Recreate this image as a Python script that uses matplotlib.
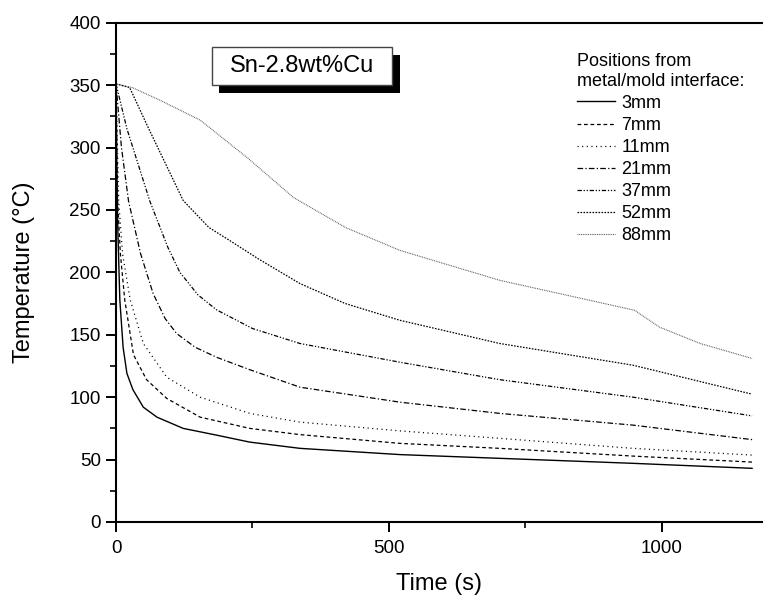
import matplotlib
matplotlib.use("Agg")
import matplotlib.pyplot as plt
import matplotlib.patches as mpatches

plt.rcParams["font.family"] = ["Liberation Sans", "DejaVu Sans"]

# cooling curves (time s, temperature C)
t_3mm = [0, 1, 3, 7, 13, 20, 31, 50, 75, 123, 184, 245, 337, 520, 703, 947, 1165]
T_3mm = [351, 300, 240, 178, 140, 119, 106, 92, 84, 75, 69.6, 64, 59, 54, 51, 47, 43]

t_7mm = [0, 3, 8, 16, 32, 56, 93, 154, 245, 337, 520, 703, 947, 1165]
T_7mm = [351, 257, 215, 178, 134, 114, 99, 84, 75, 70, 63, 59, 52.8, 48]

t_11mm = [0, 5, 12, 26, 50, 93, 154, 245, 337, 520, 703, 947, 1165]
T_11mm = [351, 257, 215, 178, 143, 116, 100, 87, 80, 73, 67, 59, 53.6]

t_21mm = [0, 10, 23, 45, 68, 90, 111, 145, 184, 245, 337, 520, 703, 947, 1165]
T_21mm = [351, 300, 257, 215, 183, 163, 151, 140, 132, 122, 108, 96, 87, 77.6, 66]

t_37mm = [0, 20, 62, 95, 117, 150, 184, 250, 337, 520, 703, 947, 1165]
T_37mm = [351, 315, 257, 220, 200, 182, 170, 155, 143, 128, 114, 100, 85]

t_52mm = [0, 25, 60, 123, 170, 210, 260, 337, 420, 520, 703, 947, 1165]
T_52mm = [351, 348, 315, 257.6, 236, 225, 211, 191, 175, 161.6, 143, 125.6, 102.4]

t_88mm = [0, 30, 80, 154, 240, 325, 420, 520, 703, 950, 996, 1070, 1165]
T_88mm = [351, 348, 338, 322, 292, 260, 236, 217.6, 193.6, 169.6, 156, 143, 131]

labels = ["3mm", "7mm", "11mm", "21mm", "37mm", "52mm", "88mm"]

series = [(t_3mm, T_3mm), (t_7mm, T_7mm), (t_11mm, T_11mm), (t_21mm, T_21mm),
          (t_37mm, T_37mm), (t_52mm, T_52mm), (t_88mm, T_88mm)]
styles = [
    dict(ls="-", color="black", lw=1.0),
    dict(ls=(0, (3, 2.2)), color="black", lw=0.9),
    dict(ls=(0, (0.9, 2.8)), color="black", lw=0.9),
    dict(ls=(0, (4.5, 1.8, 1, 1.8)), color="black", lw=0.9),
    dict(ls=(0, (3.5, 1.4, 1, 1.4, 1, 1.4)), color="black", lw=0.9),
    dict(ls=(0, (1.3, 1.1)), color="black", lw=0.9),
    dict(ls=(0, (0.8, 0.8)), color="#555555", lw=0.8),
]

fig = plt.figure(figsize=(7.63, 5.99), dpi=100)
ax = fig.add_axes([116 / 763, 1 - 522 / 599, 1 - 116 / 763, (522 - 22.7) / 599])

for (t, T), lab, st in zip(series, labels, styles):
    ax.plot(t, T, label=lab, **st)

ax.set_xlim(0, 1185)
ax.set_ylim(0, 400)
ax.set_xticks([0, 500, 1000])
ax.set_xticks([250, 750], minor=True)
ax.set_yticks(range(0, 401, 50))
ax.set_yticks(range(25, 400, 50), minor=True)

for side in ("left", "bottom", "top"):
    ax.spines[side].set_linewidth(1.5)
ax.spines["right"].set_visible(False)
ax.tick_params(which="major", length=7, width=1.4, labelsize=13.5)
ax.tick_params(which="minor", length=4, width=1.2)
ax.tick_params(axis="y", which="major", pad=4)
ax.tick_params(axis="x", which="major", pad=6)

ax.set_xlabel("Time (s)", fontsize=17)
ax.set_ylabel("Temperature (°C)", fontsize=17)
ax.xaxis.set_label_coords(0.5, -0.102)
ax.yaxis.set_label_coords(-0.125, 0.5)

# label box with drop shadow
ax.add_patch(mpatches.Rectangle((0.1596, 0.859), 0.279, 0.077, transform=ax.transAxes,
                                facecolor="black", edgecolor="none", zorder=4))
ax.add_patch(mpatches.Rectangle((0.148, 0.875), 0.279, 0.077, transform=ax.transAxes,
                                facecolor="white", edgecolor="#444444", lw=1.0, zorder=5))
ax.text(0.2875, 0.913, "Sn-2.8wt%Cu", transform=ax.transAxes, ha="center", va="center",
        fontsize=17, zorder=6)

leg = ax.legend(title="Positions from\nmetal/mold interface:", loc="upper left",
                bbox_to_anchor=(0.712, 0.939), frameon=False, fontsize=13,
                title_fontsize=13, alignment="left", handlelength=2.1,
                handletextpad=0.37, labelspacing=0.28, borderpad=0, borderaxespad=0)

fig.savefig("out.png", dpi=100)
